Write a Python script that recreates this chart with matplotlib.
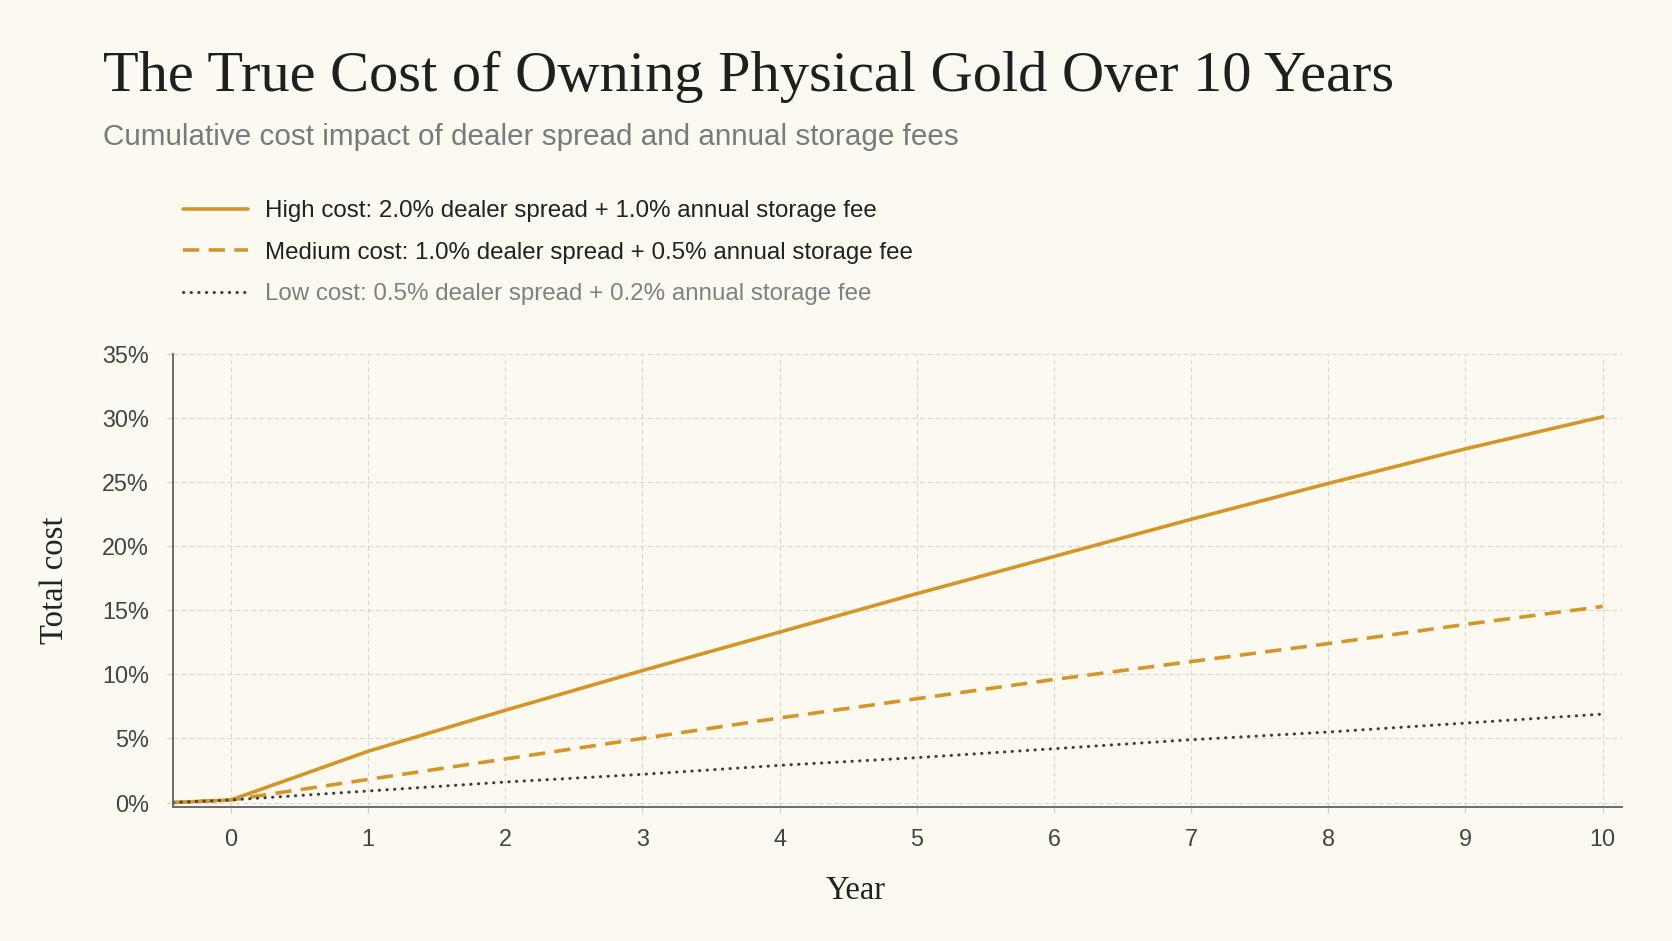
import matplotlib.pyplot as plt
from matplotlib.ticker import FuncFormatter

# data (percent of purchase value)
years = [-0.42, 0, 1, 2, 3, 4, 5, 6, 7, 8, 9, 10]
high_cost = [0.0, 0.2, 4.0, 7.2, 10.3, 13.3, 16.3, 19.2, 22.1, 24.9, 27.6, 30.1]
medium_cost = [0.0, 0.2, 1.8, 3.4, 5.0, 6.6, 8.1, 9.6, 11.0, 12.4, 13.9, 15.3]
low_cost = [0.0, 0.2, 0.9, 1.6, 2.2, 2.9, 3.5, 4.2, 4.9, 5.5, 6.2, 6.9]

labels = [
    "High cost: 2.0% dealer spread + 1.0% annual storage fee",
    "Medium cost: 1.0% dealer spread + 0.5% annual storage fee",
    "Low cost: 0.5% dealer spread + 0.2% annual storage fee",
]
y_ticks = [0, 5, 10, 15, 20, 25, 30, 35]
x_ticks = list(range(0, 11))

bg = '#fcf9f1'
gold = '#d4962b'
dark = '#3f3f3f'

fig = plt.figure(figsize=(16.72, 9.41), dpi=100, facecolor=bg)
ax = fig.add_axes([0.1033, 0.1424, 0.8667, 0.4814])
ax.set_facecolor(bg)

# the three cost lines
ax.plot(years, high_cost, color=gold, lw=2.6, solid_capstyle='round', label=labels[0])
ax.plot(years, medium_cost, color=gold, lw=2.6, linestyle=(0, (4.5, 2.6)), label=labels[1])
ax.plot(years, low_cost, color=dark, lw=2.2, linestyle=(0, (0.1, 2.4)),
        dash_capstyle='round', label=labels[2])

ax.set_xlim(-0.425, 10.14)
ax.set_ylim(-0.35, 35)
ax.set_xticks(x_ticks)
ax.set_yticks(y_ticks)
ax.yaxis.set_major_formatter(FuncFormatter(lambda v, p: f"{v:.0f}%"))

# grid and spines
ax.grid(True, color='#d9d6cf', linestyle=(0, (4, 3)), linewidth=0.8)
for side in ['top', 'right']:
    ax.spines[side].set_visible(False)
for side in ['left', 'bottom']:
    ax.spines[side].set_color('#6b6b6b')
    ax.spines[side].set_linewidth(1.4)
ax.tick_params(axis='both', colors='#d0cdc6', length=4, width=0.8, labelsize=16.8,
               labelcolor='#444444')
ax.tick_params(axis='x', pad=11)
ax.tick_params(axis='y', pad=13)
for t in ax.get_xticklabels() + ax.get_yticklabels():
    t.set_family('Liberation Sans')

ax.set_xlabel('Year', family='Liberation Serif', fontsize=23.5, color='#222222')
ax.xaxis.set_label_coords(0.4716, -0.152)
ax.set_ylabel('Total cost', family='Liberation Serif', fontsize=23.5, color='#222222')
ax.yaxis.set_label_coords(-0.071, 0.5)

# title and subtitle
fig.text(0.0616, 0.903, 'The True Cost of Owning Physical Gold Over 10 Years',
         family='Liberation Serif', fontsize=42, color='#1f1f1f', va='baseline')
fig.text(0.0616, 0.846, 'Cumulative cost impact of dealer spread and annual storage fees',
         family='Liberation Sans', fontsize=21.3, color='#7a7a7a', va='baseline')

# legend above the plot
leg = fig.legend(loc='upper left', bbox_to_anchor=(0.1095, 0.787), frameon=False,
                 borderaxespad=0, borderpad=0, handlelength=2.7, handletextpad=0.7,
                 labelspacing=0.8, prop={'family': 'Liberation Sans', 'size': 17.4})
for txt, col in zip(leg.get_texts(), ['#222222', '#222222', '#808080']):
    txt.set_color(col)

fig.savefig('out.png', dpi=100, facecolor=bg)
